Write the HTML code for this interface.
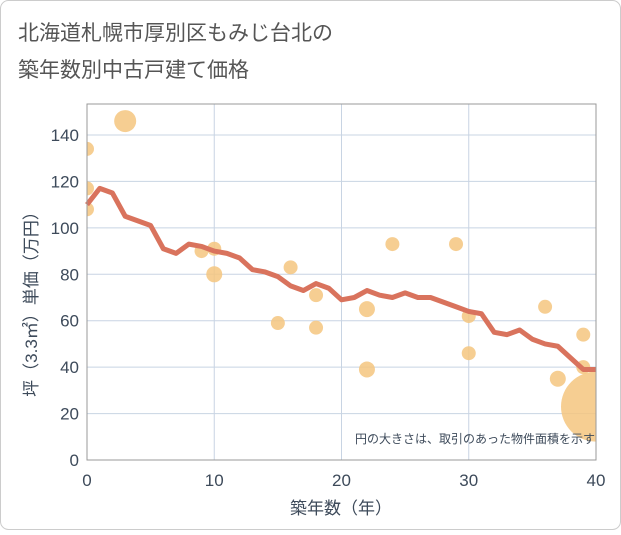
<!DOCTYPE html>
<html><head><meta charset="utf-8"><style>
body{margin:0;background:#fff;font-family:"Liberation Sans","Noto Sans CJK JP",sans-serif}
</style></head><body>
<svg width="621" height="530" xmlns="http://www.w3.org/2000/svg" font-family="'Liberation Sans','Noto Sans CJK JP',sans-serif">
<defs><clipPath id="pc"><rect x="87" y="104" width="509" height="356"/></clipPath></defs>
<rect x="0.5" y="0.5" width="620" height="529" rx="8" fill="#fff" stroke="#ccc"/>
<text x="18" y="40" font-size="21" fill="#555">北海道札幌市厚別区もみじ台北の</text>
<text x="18" y="77" font-size="21" fill="#555">築年数別中古戸建て価格</text>
<g id="grid"></g>
<g id="scatter" clip-path="url(#pc)"></g>
<g id="line"></g>
<g id="axes"></g>
<text x="595" y="443" font-size="12" fill="#3d4a5a" text-anchor="end">円の大きさは、取引のあった物件面積を示す</text>
<text x="341" y="514" font-size="17" fill="#3d4a5a" text-anchor="middle">築年数（年）</text>
<text transform="translate(37,300) rotate(-90)" font-size="17" fill="#3d4a5a" text-anchor="middle">坪（3.3㎡）単価（万円）</text>
</svg>
<script>
const lineX=[0,1,2,3,4,5,6,7,8,9,10,11,12,13,14,15,16,17,18,19,20,21,22,23,24,25,26,27,28,29,30,31,32,33,34,35,36,37,38,39,40];
const lineY=[110,117,115,105,103,101,91,89,93,92,90,89,87,82,81,79,75,73,76,74,69,70,73,71,70,72,70,70,68,66,64,63,55,54,56,52,50,49,44,39,39];
const ptX=[0,0,0,3,9,10,10,15,16,18,18,22,22,24,29,30,30,36,37,39,39,40];
const ptY=[134,117,108,146,90,91,80,59,83,71,57,65,39,93,93,62,46,66,35,54,40,23];
const ptR=[7,7,7,11,7,7,8,7,7,7,7,8,8,7,7,7,7,7,8,7,7,35];
const xTicks=[0,10,20,30,40];
const yTicks=[0,20,40,60,80,100,120,140];
const NS="http://www.w3.org/2000/svg";
const X0=87,X1=596,Y0=460,Ytop=104;
const sx=v=>X0+(X1-X0)*v/40;
const sy=v=>Y0-(Y0-135)*v/140;
function mk(t,a,p){const e=document.createElementNS(NS,t);for(const k in a)e.setAttribute(k,a[k]);p.appendChild(e);return e;}
const grid=document.getElementById('grid');
yTicks.forEach(v=>{if(v>0){const l=mk('line',{x1:X0,x2:X1,y1:sy(v),y2:sy(v),stroke:'#c8d4e3','stroke-width':1},grid);

}});
xTicks.forEach(v=>{if(v>0&&v<40){const l=mk('line',{x1:sx(v),x2:sx(v),y1:Ytop,y2:Y0,stroke:'#c8d4e3','stroke-width':1},grid);

}});
const sc=document.getElementById('scatter');
ptX.forEach((x,i)=>{const c=mk('circle',{cx:sx(x),cy:sy(ptY[i]),r:ptR[i],fill:'#f5c57f','fill-opacity':0.85},sc);

});
const ln=document.getElementById('line');
const pl=mk('polyline',{points:lineX.map((x,i)=>sx(x)+','+sy(lineY[i])).join(' '),fill:'none',stroke:'#d9735d','stroke-width':5,'stroke-linejoin':'round'},ln);


const ax=document.getElementById('axes');
const fr=mk('rect',{x:X0,y:Ytop,width:X1-X0,height:Y0-Ytop,fill:'none',stroke:'#999','stroke-width':1},ax);


yTicks.forEach(v=>{const t=mk('text',{x:79,y:sy(v)+6,'font-size':17,fill:'#3d4a5a','text-anchor':'end'},ax);t.textContent=v;

});
xTicks.forEach(v=>{const t=mk('text',{x:sx(v),y:486,'font-size':17,fill:'#3d4a5a','text-anchor':'middle'},ax);t.textContent=v;

});
</script>
</body></html>
